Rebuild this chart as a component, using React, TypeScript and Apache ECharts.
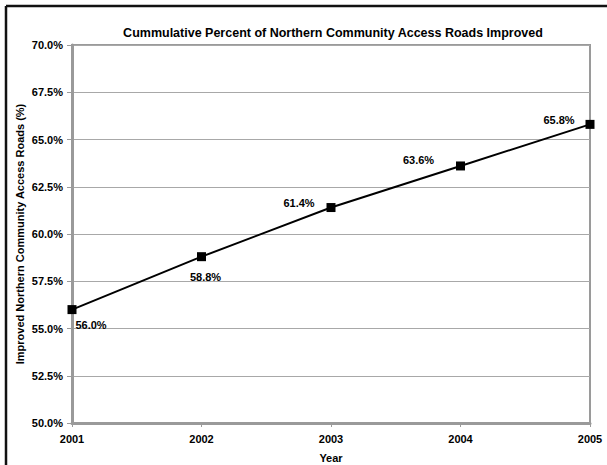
import React, { useEffect, useRef } from "react";
import * as echarts from "echarts";

const years = ["2001", "2002", "2003", "2004", "2005"];
const improvedPct = [56.0, 58.8, 61.4, 63.6, 65.8];
// label placement around each point, in pixels
const labelOffsets: [number, number][] = [
  [19, 15],
  [4, 20],
  [-32, -5],
  [-42, -6],
  [-31, -4],
];

const FONT = "'Liberation Sans', Arial, sans-serif";

export default function App() {
  const ref = useRef<HTMLDivElement>(null);

  useEffect(() => {
    if (!ref.current) return;
    const chart = echarts.init(ref.current, null, { renderer: "svg" });
    chart.setOption({
      animation: false,
      backgroundColor: "#ffffff",
      textStyle: { fontFamily: FONT },
      title: {
        text: "Cummulative Percent of Northern Community Access Roads Improved",
        left: 328,
        top: 21,
        textAlign: "center",
        textStyle: { fontFamily: FONT, fontSize: 12.5, fontWeight: "bold", color: "#000" },
      },
      grid: {
        left: 72,
        right: 17,
        top: 45,
        bottom: 42,
        outerBoundsMode: "none",
        containLabel: false,
        show: true,
        borderColor: "#9a9a9a",
        borderWidth: 2,
        backgroundColor: "transparent",
      },
      xAxis: {
        type: "category",
        data: years,
        boundaryGap: false,
        name: "Year",
        nameLocation: "middle",
        nameGap: 29,
        nameMoveOverlap: false,
        nameTextStyle: { fontFamily: FONT, fontSize: 11, fontWeight: "bold", color: "#000" },
        axisLine: { lineStyle: { color: "#9a9a9a", width: 3 } },
        axisTick: { show: true, alignWithLabel: true, length: 4, lineStyle: { color: "#9a9a9a", width: 1 } },
        axisLabel: { fontFamily: FONT, fontSize: 11, fontWeight: "bold", color: "#000", margin: 10 },
        splitLine: { show: false },
      },
      yAxis: {
        type: "value",
        min: 50,
        max: 70,
        interval: 2.5,
        name: "Improved Northern Community Access Roads (%)",
        nameLocation: "middle",
        nameGap: 47,
        nameMoveOverlap: false,
        nameTextStyle: { fontFamily: FONT, fontSize: 11, fontWeight: "bold", color: "#000" },
        axisLine: { show: true, lineStyle: { color: "#9a9a9a", width: 3 } },
        axisTick: { show: true, length: 5, lineStyle: { color: "#9a9a9a", width: 1 } },
        axisLabel: {
          fontFamily: FONT,
          fontSize: 11,
          fontWeight: "bold",
          color: "#000",
          margin: 9,
          formatter: (v: number) => v.toFixed(1) + "%",
        },
        splitLine: { show: true, lineStyle: { color: "#a8a8a8", width: 1 } },
      },
      series: [
        {
          type: "line",
          data: improvedPct.map((v, i) => ({
            value: v,
            label: { offset: labelOffsets[i] },
          })),
          symbol: "rect",
          symbolSize: 9,
          itemStyle: { color: "#000" },
          lineStyle: { color: "#000", width: 2 },
          label: {
            show: true,
            position: "inside",
            fontFamily: FONT,
            fontSize: 11,
            fontWeight: "bold",
            color: "#000",
            formatter: (p: any) => Number(p.value).toFixed(1) + "%",
          },
        },
      ],
      graphic: [
        {
          type: "line",
          shape: { x1: 6, y1: 6, x2: 607, y2: 6 },
          style: { stroke: "#111", lineWidth: 2.5 },
        },
        {
          type: "line",
          shape: { x1: 6, y1: 6, x2: 6, y2: 465 },
          style: { stroke: "#111", lineWidth: 2.5 },
        },
      ],
    });
    return () => chart.dispose();
  }, []);

  return (
    <div
      ref={ref}
      style={{ position: "fixed", left: 0, top: 0, width: 607, height: 465 }}
    />
  );
}
